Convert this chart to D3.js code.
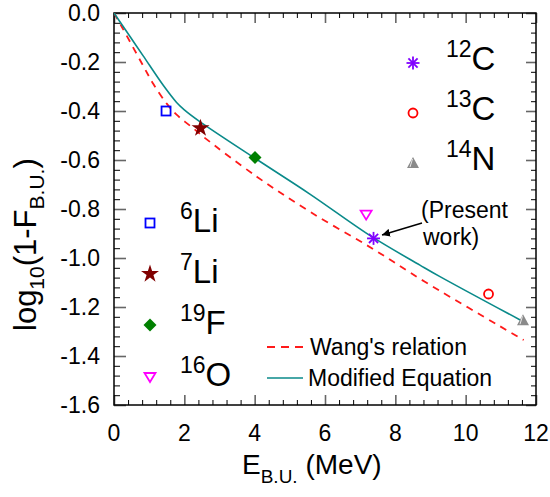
<!DOCTYPE html>
<html>
<head>
<meta charset="utf-8">
<script src="https://cdn.jsdelivr.net/npm/d3@7"></script>
<style>
  html, body { margin: 0; padding: 0; background: #fff; }
  svg { display: block; font-family: Arial, "Liberation Sans", sans-serif; }
</style>
</head>
<body>
<svg id="chart" width="550" height="497"></svg>
<script>
// Break-up energy (MeV) and log10(1 - F_B.U.) for each nucleus
const nuclei   = ["6Li", "7Li", "19F", "16O", "12C", "13C", "14N"];
const energies = [1.48, 2.46, 4.01, 7.17, 7.38, 10.65, 11.63];
const logF     = [-0.40, -0.47, -0.59, -0.823, -0.92, -1.147, -1.254];

// Wang's relation (dashed curve)
const wangE   = [0, 0.22, 0.79, 1.12, 1.50, 1.78, 2.30, 2.54, 4.06, 5.57, 7.33, 8.84, 11.65];
const wangLog = [0, -0.056, -0.205, -0.290, -0.370, -0.415, -0.476, -0.505, -0.668, -0.811, -0.960, -1.097, -1.335];

// Modified equation (solid curve)
const modE   = [0, 0.46, 0.83, 1.40, 1.78, 2.00, 2.43, 4.01, 5.57, 7.33, 8.70, 9.27, 11.55];
const modLog = [0, -0.097, -0.175, -0.295, -0.365, -0.395, -0.442, -0.593, -0.739, -0.913, -1.029, -1.076, -1.253];

const xTicks = [0, 2, 4, 6, 8, 10, 12];
const yTicks = [0.0, -0.2, -0.4, -0.6, -0.8, -1.0, -1.2, -1.4, -1.6];

const svg = d3.select("#chart");
const L = 114, R = 536, T = 13, B = 405;
const x = d3.scaleLinear().domain([0, 12]).range([L, R]);
const y = d3.scaleLinear().domain([-1.6, 0]).range([B, T]);

// ----- axes with inward ticks on all four sides -----
const minorX = d3.range(0, 12.001, 0.4).filter(v => Math.abs(v / 2 - Math.round(v / 2)) > 1e-6);
const minorY = d3.range(-1.6, 0.001, 0.04).filter(v => Math.abs(v / 0.2 - Math.round(v / 0.2)) > 1e-6);

function tickStyle(sel, major) {
  sel.selectAll(".tick line").attr("stroke", major ? "#666" : "#000").attr("stroke-width", major ? 1.6 : 1);
  sel.select(".domain").remove();
  sel.selectAll(".tick text").remove();
}
const gx = svg.append("g");
gx.append("g").attr("transform", `translate(0,${B})`)
  .call(d3.axisBottom(x).tickValues(xTicks).tickSizeInner(-10).tickSizeOuter(0)).call(s => tickStyle(s, true));
gx.append("g").attr("transform", `translate(0,${B})`)
  .call(d3.axisBottom(x).tickValues(minorX).tickSizeInner(-5).tickSizeOuter(0)).call(s => tickStyle(s, false));
gx.append("g").attr("transform", `translate(0,${T})`)
  .call(d3.axisTop(x).tickValues(xTicks).tickSizeInner(-10).tickSizeOuter(0)).call(s => tickStyle(s, true));
gx.append("g").attr("transform", `translate(0,${T})`)
  .call(d3.axisTop(x).tickValues(minorX).tickSizeInner(-5).tickSizeOuter(0)).call(s => tickStyle(s, false));
gx.append("g").attr("transform", `translate(${L},0)`)
  .call(d3.axisLeft(y).tickValues(yTicks).tickSizeInner(-12).tickSizeOuter(0)).call(s => tickStyle(s, true));
gx.append("g").attr("transform", `translate(${L},0)`)
  .call(d3.axisLeft(y).tickValues(minorY).tickSizeInner(-6).tickSizeOuter(0)).call(s => tickStyle(s, false));
gx.append("g").attr("transform", `translate(${R},0)`)
  .call(d3.axisRight(y).tickValues(yTicks).tickSizeInner(-10).tickSizeOuter(0)).call(s => tickStyle(s, true));
gx.append("g").attr("transform", `translate(${R},0)`)
  .call(d3.axisRight(y).tickValues(minorY).tickSizeInner(-5).tickSizeOuter(0)).call(s => tickStyle(s, false));

// frame
svg.append("rect").attr("x", L).attr("y", T).attr("width", R - L).attr("height", B - T)
  .attr("fill", "none").attr("stroke", "#000").attr("stroke-width", 1.5);

// tick labels
svg.append("g").selectAll("text").data(xTicks).join("text")
  .attr("x", d => x(d)).attr("y", 441).attr("text-anchor", "middle")
  .attr("font-size", 23).text(d => d);
svg.append("g").selectAll("text").data(yTicks).join("text")
  .attr("x", 100).attr("y", d => y(d)).attr("text-anchor", "end").attr("dominant-baseline", "central")
  .attr("font-size", 23).text(d => d.toFixed(1));

// axis titles
const xt = svg.append("text").attr("x", 242).attr("y", 474).attr("font-size", 28);
xt.append("tspan").text("E");
xt.append("tspan").attr("font-size", 19).attr("dy", 9).text("B.U.");
xt.append("tspan").attr("dy", -9).text(" (MeV)");

const yt = svg.append("text").attr("transform", "translate(36,331) rotate(-90)").attr("font-size", 31);
yt.append("tspan").text("log");
yt.append("tspan").attr("font-size", 21).attr("dy", 8).text("10");
yt.append("tspan").attr("dy", -8).text("(1-F");
yt.append("tspan").attr("font-size", 21).attr("dy", 8).text("B.U.");
yt.append("tspan").attr("dy", -8).text(")");

// ----- curves -----
const clip = svg.append("clipPath").attr("id", "plotclip");
clip.append("rect").attr("x", L).attr("y", T).attr("width", R - L).attr("height", B - T);

const line = d3.line().x(d => x(d[0])).y(d => y(d[1])).curve(d3.curveCatmullRom.alpha(0.5));
svg.append("path").datum(d3.zip(wangE, wangLog)).attr("d", line)
  .attr("fill", "none").attr("stroke", "#ff1a1a").attr("stroke-width", 1.8)
  .attr("stroke-dasharray", "7,6").attr("clip-path", "url(#plotclip)");
svg.append("path").datum(d3.zip(modE, modLog)).attr("d", line)
  .attr("fill", "none").attr("stroke", "#0a8a8a").attr("stroke-width", 1.6)
  .attr("clip-path", "url(#plotclip)");

// ----- markers -----
const starPath = d3.symbol().type(d3.symbolStar).size(100)();
function drawMarker(g, name) {
  switch (name) {
    case "6Li":
      g.append("rect").attr("x", -4.5).attr("y", -4.5).attr("width", 9).attr("height", 9)
        .attr("fill", "none").attr("stroke", "#0000ff").attr("stroke-width", 1.8); break;
    case "7Li":
      g.append("path").attr("d", starPath).attr("fill", "#800000"); break;
    case "19F":
      g.append("path").attr("d", "M0,-6.5L6.5,0L0,6.5L-6.5,0Z").attr("fill", "#008000"); break;
    case "16O":
      g.append("path").attr("d", "M-5.5,-4L5.5,-4L0,5Z").attr("fill", "none")
        .attr("stroke", "#ff00ff").attr("stroke-width", 1.8); break;
    case "12C":
      [0, 45, 90, 135].forEach(a => {
        const r = 6.5, t = a * Math.PI / 180;
        g.append("line").attr("x1", -r * Math.cos(t)).attr("y1", -r * Math.sin(t))
          .attr("x2", r * Math.cos(t)).attr("y2", r * Math.sin(t))
          .attr("stroke", "#8000ff").attr("stroke-width", 1.8);
      }); break;
    case "13C":
      g.append("circle").attr("r", 4.5).attr("fill", "none").attr("stroke", "#ff0000").attr("stroke-width", 1.8); break;
    case "14N":
      g.append("path").attr("d", "M0,-6L6,5L-6,5Z").attr("fill", "#8a8a8a");
      g.append("line").attr("x1", -0.5).attr("y1", -4).attr("x2", -3).attr("y2", 4)
        .attr("stroke", "#fff").attr("stroke-width", 0.8); break;
  }
}

nuclei.forEach((n, i) => {
  const g = svg.append("g").attr("transform", `translate(${x(energies[i])},${y(logF[i])})`);
  drawMarker(g, n);
});

// ----- legends for nuclei -----
const legendLeft  = [["6Li", "6", "Li", 223], ["7Li", "7", "Li", 274], ["19F", "19", "F", 325], ["16O", "16", "O", 377]];
const legendRight = [["12C", "12", "C", 63], ["13C", "13", "C", 113], ["14N", "14", "N", 163]];

function isoLabel(px, py, mass, sym) {
  const t = svg.append("text").attr("x", px).attr("y", py).attr("font-size", 33);
  t.append("tspan").attr("font-size", 23).attr("dy", -13).text(mass);
  t.append("tspan").attr("dy", 13).text(sym);
}
legendLeft.forEach(([n, m, s, py]) => {
  drawMarker(svg.append("g").attr("transform", `translate(150,${py})`), n);
  isoLabel(180, py + 9, m, s);
});
legendRight.forEach(([n, m, s, py]) => {
  drawMarker(svg.append("g").attr("transform", `translate(413,${py})`), n);
  isoLabel(446, py + 7, m, s);
});

// ----- line legend -----
svg.append("line").attr("x1", 267).attr("x2", 303).attr("y1", 347).attr("y2", 347)
  .attr("stroke", "#ff1a1a").attr("stroke-width", 1.8).attr("stroke-dasharray", "8,6");
svg.append("text").attr("x", 310).attr("y", 347).attr("dominant-baseline", "central")
  .attr("font-size", 23).text("Wang's relation");
svg.append("line").attr("x1", 267).attr("x2", 303).attr("y1", 378).attr("y2", 378)
  .attr("stroke", "#0a8a8a").attr("stroke-width", 1.6);
svg.append("text").attr("x", 308).attr("y", 378).attr("dominant-baseline", "central")
  .attr("font-size", 23).text("Modified Equation");

// ----- annotation -----
svg.append("defs").append("marker").attr("id", "arrowhead").attr("viewBox", "0 0 10 10")
  .attr("refX", 10).attr("refY", 5).attr("markerWidth", 8).attr("markerHeight", 8)
  .attr("orient", "auto").attr("markerUnits", "userSpaceOnUse")
  .append("path").attr("d", "M0,0L10,5L0,10Z").attr("fill", "#000");
svg.append("line").attr("x1", 422).attr("y1", 223).attr("x2", 382).attr("y2", 235)
  .attr("stroke", "#000").attr("stroke-width", 1.5).attr("marker-end", "url(#arrowhead)");
svg.append("text").attr("x", 421).attr("y", 218).attr("font-size", 23).text("(Present");
svg.append("text").attr("x", 423).attr("y", 245).attr("font-size", 23).text("work)");
</script>
</body>
</html>
